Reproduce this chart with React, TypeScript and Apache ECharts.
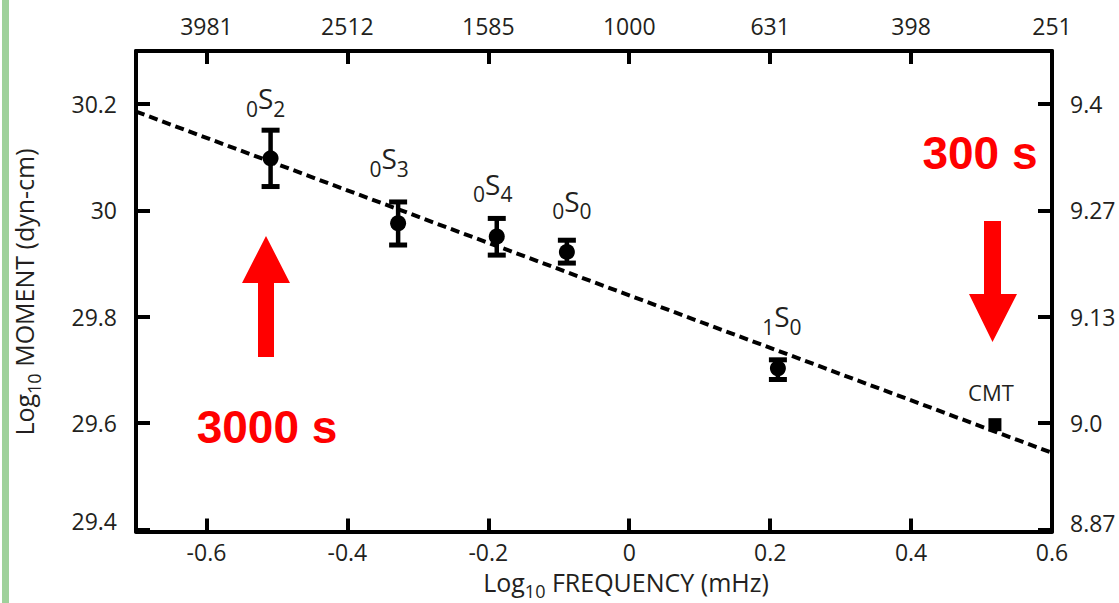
import React, { useEffect, useRef } from "react";
import * as echarts from "echarts";

// ---- data ----
const modeSub = ["0", "0", "0", "0", "1"];
const modeIdx = ["2", "3", "4", "0", "0"];
const logFreq = [-0.509, -0.328, -0.188, -0.0885, 0.211];
const logMoment = [30.098, 29.976, 29.951, 29.922, 29.703];
const errLow = [30.045, 29.935, 29.916, 29.901, 29.682];
const errHigh = [30.151, 30.016, 29.985, 29.944, 29.719];
const cmtFreq = [0.519];
const cmtMoment = [29.597];
const fitFreq = [-0.7, 0.6];
const fitMoment = [30.186, 29.544];

const xTicks = [-0.6, -0.4, -0.2, 0, 0.2, 0.4, 0.6];
const xTickLabels = ["-0.6", "-0.4", "-0.2", "0", "0.2", "0.4", "0.6"];
const periodLabels = ["3981", "2512", "1585", "1000", "631", "398", "251"];
const yTicks = [29.4, 29.6, 29.8, 30, 30.2];
const yTickLabels = ["29.4", "29.6", "29.8", "30", "30.2"];
const magLabels = ["8.87", "9.0", "9.13", "9.27", "9.4"];

// label placement (style)
const labelDist = [31, 36, 24, 22, 23];
const labelDx = [-5, -9, -4, 5, 4];

const FONT = "'Open Sans', 'Noto Sans', sans-serif";
const TXT = "#231f20";

function pick(ticks: number[], labels: string[], v: number) {
  const i = ticks.findIndex((t) => Math.abs(t - v) < 1e-6);
  return i >= 0 ? labels[i] : "";
}

export default function App() {
  const ref = useRef<HTMLDivElement>(null);
  useEffect(() => {
    if (!ref.current) return;
    const chart = echarts.init(ref.current, null, { renderer: "svg" });

    const axisCommon = {
      type: "value",
      axisLine: { show: true, onZero: false, lineStyle: { color: "#000", width: 4 } },
      splitLine: { show: false },
    };

    const xBase = {
      ...axisCommon,
      min: -0.7,
      max: 0.6,
      axisTick: { show: true, inside: true, length: 13, customValues: xTicks, lineStyle: { color: "#000", width: 4 } },
    };
    const yBase = {
      ...axisCommon,
      min: 29.396,
      max: 30.3,
      axisTick: { show: true, inside: true, length: 14, customValues: yTicks, lineStyle: { color: "#000", width: 4 } },
    };

    const labelStyle = { fontSize: 23, color: TXT, fontFamily: FONT };

    const option: any = {
      animation: false,
      backgroundColor: "#fff",
      grid: { left: 136, right: 67, top: 51, bottom: 71.5, containLabel: false, outerBoundsMode: "none" },
      xAxis: [
        {
          ...xBase,
          position: "bottom",
          axisLabel: { ...labelStyle, lineHeight: 22, margin: 9, customValues: xTicks, formatter: (v: number) => pick(xTicks, xTickLabels, v) },
        },
        {
          ...xBase,
          position: "top",
          axisLabel: { ...labelStyle, margin: 14, customValues: xTicks, formatter: (v: number) => pick(xTicks, periodLabels, v) },
        },
      ],
      yAxis: [
        {
          ...yBase,
          position: "left",
          axisLabel: {
            ...labelStyle,
            margin: 19,
            customValues: yTicks,
            formatter: (v: number) => {
              const s = pick(yTicks, yTickLabels, v);
              return Math.abs(v - yTicks[0]) < 1e-6 ? "{m|" + s + "}" : s;
            },
            rich: { m: { ...labelStyle, padding: [0, 0, 16, 0] } },
          },
        },
        {
          ...yBase,
          position: "right",
          axisLabel: {
            ...labelStyle,
            margin: 18,
            customValues: yTicks,
            formatter: (v: number) => {
              const s = pick(yTicks, magLabels, v);
              return Math.abs(v - yTicks[0]) < 1e-6 ? "{m|" + s + "}" : s;
            },
            rich: { m: { ...labelStyle, padding: [0, 0, 12, 0] } },
          },
        },
      ],
      series: [
        {
          type: "line",
          data: fitFreq.map((x, i) => [x, fitMoment[i]]),
          symbol: "none",
          lineStyle: { color: "#000", width: 4, type: [9, 5] },
          z: 2,
          silent: true,
        },
        {
          type: "custom",
          data: logFreq.map((x, i) => [x, errLow[i], errHigh[i]]),
          encode: { x: 0, y: [1, 2] },
          z: 3,
          renderItem: (params: any, api: any) => {
            const x = api.value(0);
            const lo = api.coord([x, api.value(1)]);
            const hi = api.coord([x, api.value(2)]);
            const hw = 9;
            const st = { stroke: "#000", lineWidth: 4.5 };
            return {
              type: "group",
              children: [
                { type: "line", shape: { x1: lo[0], y1: lo[1], x2: hi[0], y2: hi[1] }, style: st },
                { type: "line", shape: { x1: lo[0] - hw, y1: lo[1], x2: lo[0] + hw, y2: lo[1] }, style: { ...st, lineWidth: 5 } },
                { type: "line", shape: { x1: hi[0] - hw, y1: hi[1], x2: hi[0] + hw, y2: hi[1] }, style: { ...st, lineWidth: 5 } },
              ],
            };
          },
        },
        {
          type: "scatter",
          symbol: "circle",
          symbolSize: 16,
          itemStyle: { color: "#000", opacity: 1 },
          z: 4,
          data: logFreq.map((x, i) => ({
            value: [x, logMoment[i]],
            label: {
              show: true,
              position: "top",
              distance: labelDist[i],
              offset: [labelDx[i], 0],
              formatter: "{d|" + modeSub[i] + "}{s|S}{d|" + modeIdx[i] + "}",
              rich: {
                d: { fontSize: 21, fontFamily: FONT, color: TXT, verticalAlign: "bottom" },
                s: { fontSize: 28, fontFamily: FONT, color: TXT, verticalAlign: "bottom", padding: [0, 0, 7, 0] },
              },
            },
          })),
        },
        {
          type: "scatter",
          symbol: "rect",
          symbolSize: 13,
          itemStyle: { color: "#000", opacity: 1 },
          z: 4,
          data: cmtFreq.map((x, i) => [x, cmtMoment[i]]),
          label: {
            show: true,
            position: "top",
            distance: 15,
            offset: [-4, 0],
            formatter: "CMT",
            fontSize: 22,
            fontFamily: FONT,
            color: TXT,
          },
        },
      ],
      graphic: [
        { type: "rect", shape: { x: 2, y: 0, width: 7, height: 603 }, style: { fill: "#9fd19b" } },
        {
          type: "text",
          x: 626,
          y: 589,
          style: {
            text: "{a|Log}{b|10}{a| FREQUENCY (mHz)}",
            align: "center",
            verticalAlign: "middle",
            rich: {
              a: { fontSize: 25, lineHeight: 22, fontFamily: FONT, fill: TXT, verticalAlign: "bottom", padding: [0, 0, 6, 0] },
              b: { fontSize: 18, lineHeight: 16, fontFamily: FONT, fill: TXT, verticalAlign: "bottom" },
            },
          },
        },
        {
          type: "text",
          x: 27,
          y: 292,
          rotation: Math.PI / 2,
          style: {
            text: "{a|Log}{b|10}{a| MOMENT (dyn-cm)}",
            align: "center",
            verticalAlign: "middle",
            rich: {
              a: { fontSize: 25, fontFamily: FONT, fill: TXT, verticalAlign: "bottom", padding: [0, 0, 7, 0] },
              b: { fontSize: 18, fontFamily: FONT, fill: TXT, verticalAlign: "bottom" },
            },
          },
        },
        {
          type: "text",
          x: 267,
          y: 427,
          style: {
            text: "3000 s",
            fill: "#ff0000",
            font: "bold 46px 'Liberation Sans', Arial, sans-serif",
            align: "center",
            verticalAlign: "middle",
          },
        },
        {
          type: "text",
          x: 980,
          y: 153,
          style: {
            text: "300 s",
            fill: "#ff0000",
            font: "bold 46px 'Liberation Sans', Arial, sans-serif",
            align: "center",
            verticalAlign: "middle",
          },
        },
        {
          type: "polygon",
          shape: {
            points: [
              [258, 357], [274, 357], [274, 283], [290, 283], [266, 236], [242, 283], [258, 283],
            ],
          },
          style: { fill: "#ff0000" },
        },
        {
          type: "polygon",
          shape: {
            points: [
              [984, 221], [1001, 221], [1001, 294], [1017, 294], [992.5, 342], [969, 294], [984, 294],
            ],
          },
          style: { fill: "#ff0000" },
        },
      ],
    };

    chart.setOption(option);
    return () => chart.dispose();
  }, []);

  return (
    <div
      ref={ref}
      style={{ position: "fixed", left: 0, top: 0, width: 1119, height: 603, background: "#fff" }}
    />
  );
}
